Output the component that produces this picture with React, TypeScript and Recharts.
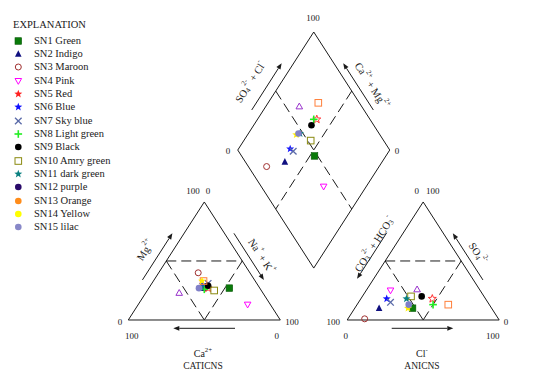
import React from "react";
import { ScatterChart, Scatter, XAxis, YAxis, ReferenceLine, ReferenceDot } from "recharts";

// Piper diagram: sample names and read-off ionic percentages (meq %)
const samples = [
  "SN1 Green", "SN2 Indigo", "SN3 Maroon", "SN4 Pink", "SN5 Red",
  "SN6 Blue", "SN7 Sky blue", "SN8 Light green", "SN9 Black", "SN10 Amry green",
  "SN11 dark green", "SN12 purple", "SN13 Orange", "SN14 Yellow", "SN15  lilac",
];
// cations
const caPct = [20, 37, 34, 15, 34, 36, 32, 37, 33, 31, 38, 55, 34, 35, 40];
const mgPct = [27, 27, 40, 13, 27, 30, 31, 26, 29, 25, 28, 23, 33, 33, 27];
const naKPct = [53, 36, 26, 72, 39, 34, 37, 37, 38, 44, 34, 22, 33, 32, 33];
// anions
const hco3Pct = [52, 74, 88, 59, 35, 65, 64, 37, 41, 48, 52, 41, 27, 55, 53];
const so4Pct = [10, 10, 1, 25, 18, 18, 15, 13, 20, 20, 18, 26, 13, 10, 13];
const clPct = [38, 16, 11, 16, 47, 17, 21, 50, 39, 32, 30, 33, 60, 35, 34];

// symbols as plotted, and as drawn in the explanation box
const plotShape = ["square", "triUp", "circleOpen", "triDownOpen", "starOpen", "star", "cross", "plus", "circle", "squareOpen", "star", "triUpOpen", "squareOpen", "star", "circle"];
const plotColor = ["#0a7a0a", "#101080", "#a03030", "#ff00ff", "#ff2020", "#1010ff", "#5a6aa8", "#22ee22", "#000000", "#8a8a10", "#0a8080", "#9933cc", "#ff7f3a", "#ffee00", "#8080c8"];
const legendShape = ["square", "triUp", "circleOpen", "triDownOpen", "star", "star", "cross", "plus", "circle", "squareOpen", "star", "circle", "circle", "circle", "circle"];
const legendColor = ["#0a7a0a", "#101080", "#a03030", "#ff00ff", "#ff2020", "#1010ff", "#5a6aa8", "#22ee22", "#000000", "#8a8a10", "#0a8080", "#2a0a6a", "#ff8c1a", "#ffff00", "#8888c8"];

const GAP = 44;
const H = 86.6025;
const SPAN = 200 + GAP;
const FONT = "'Liberation Serif', 'Times New Roman', serif";
const INK = "#1a1a1a";

const cationXY = (ca: number, mg: number, na: number) => {
  const s = ca + mg + na;
  const m = (mg / s) * 100, n = (na / s) * 100;
  return { x: n + m / 2, y: (m * H) / 100 };
};
const anionXY = (hco3: number, so4: number, cl: number) => {
  const s = hco3 + so4 + cl;
  const o = (so4 / s) * 100, c = (cl / s) * 100;
  return { x: 100 + GAP + c + o / 2, y: (o * H) / 100 };
};
const diamondXY = (na: number, hco3: number) => {
  const t = SPAN - na - hco3;
  return { x: na + t / 2, y: (t * H) / 100 };
};

const seriesData = samples.map((_, i) => {
  const sc = caPct[i] + mgPct[i] + naKPct[i];
  const sa = hco3Pct[i] + so4Pct[i] + clPct[i];
  return [
    cationXY(caPct[i], mgPct[i], naKPct[i]),
    anionXY(hco3Pct[i], so4Pct[i], clPct[i]),
    diamondXY((naKPct[i] / sc) * 100, (hco3Pct[i] / sa) * 100),
  ];
});

// frame
const pt = (p: { x: number; y: number }) => p;
const C = { a: pt({ x: 0, y: 0 }), b: pt({ x: 100, y: 0 }), c: pt({ x: 50, y: H }) };
const A = { a: pt({ x: 100 + GAP, y: 0 }), b: pt({ x: SPAN, y: 0 }), c: pt({ x: 150 + GAP, y: H }) };
const D = { b: diamondXY(100, 100), l: diamondXY(0, 100), t: diamondXY(0, 0), r: diamondXY(100, 0) };
const solid = [
  [C.a, C.b], [C.b, C.c], [C.c, C.a],
  [A.a, A.b], [A.b, A.c], [A.c, A.a],
  [D.b, D.l], [D.l, D.t], [D.t, D.r], [D.r, D.b],
];
const dashed = [
  [cationXY(50, 50, 0), cationXY(0, 50, 50)], [cationXY(50, 50, 0), cationXY(50, 0, 50)], [cationXY(0, 50, 50), cationXY(50, 0, 50)],
  [anionXY(50, 50, 0), anionXY(0, 50, 50)], [anionXY(50, 50, 0), anionXY(50, 0, 50)], [anionXY(0, 50, 50), anionXY(50, 0, 50)],
  [diamondXY(0, 50), diamondXY(100, 50)], [diamondXY(50, 0), diamondXY(50, 100)],
];
const arrows = [
  [{ x: 70.2, y: -6.1 }, { x: 29.6, y: -6.1 }],
  [{ x: 9.3, y: 29.4 }, { x: 29, y: 63.6 }],
  [{ x: 69.5, y: 63.6 }, { x: 89.2, y: 29.4 }],
  [{ x: 173.3, y: -6.1 }, { x: 213.8, y: -6.1 }],
  [{ x: 170, y: 64 }, { x: 150.5, y: 30.2 }],
  [{ x: 233.3, y: 29.4 }, { x: 213.5, y: 63.6 }],
  [{ x: 81.2, y: 154.1 }, { x: 100.9, y: 188.4 }],
  [{ x: 161.2, y: 154.1 }, { x: 141.4, y: 188.4 }],
];

const ROT = 57.2;
const labels: { x: number; y: number; text: string; size: number; rot?: number }[] = [
  { x: 42.6, y: 94.7, text: "100", size: 9 }, { x: 52.4, y: 94.7, text: "0", size: 9 },
  { x: -5.5, y: -1.5, text: "0", size: 9 }, { x: 2.2, y: -11.7, text: "100", size: 9 },
  { x: 107.7, y: -1.5, text: "100", size: 9 }, { x: 97.6, y: -11.7, text: "0", size: 9 },
  { x: 189.7, y: 94.9, text: "0", size: 9 }, { x: 200.3, y: 94.9, text: "100", size: 9 },
  { x: 134.9, y: -1.5, text: "100", size: 9 }, { x: 143, y: -11.7, text: "0", size: 9 },
  { x: 248.5, y: -1.5, text: "0", size: 9 }, { x: 239.7, y: -11.7, text: "100", size: 9 },
  { x: 121.5, y: 221.6, text: "100", size: 9 }, { x: 65.6, y: 123.7, text: "0", size: 9 }, { x: 176.8, y: 124, text: "0", size: 9 },
  { x: 49.1, y: -24.2, text: "Ca^{2+}", size: 10 }, { x: 49.1, y: -33.8, text: "CATICNS", size: 9.5 },
  { x: 193.2, y: -24.2, text: "Cl^{-}", size: 10 }, { x: 193.2, y: -33.8, text: "ANICNS", size: 9.5 },
  { x: 11, y: 51.4, text: "Mg^{2+}", size: 10.5, rot: -ROT },
  { x: 87.8, y: 47, text: "Na^{+} + K^{+}", size: 10.5, rot: ROT },
  { x: 161.6, y: 55.8, text: "CO_{3}^{2-} + HCO_{3}^{-}", size: 10.5, rot: -ROT },
  { x: 230, y: 49.2, text: "SO_{4}^{2-}", size: 10.5, rot: ROT },
  { x: 80.1, y: 174.7, text: "SO_{4}^{2-} + Cl^{-}", size: 10.5, rot: -ROT },
  { x: 160.3, y: 172.1, text: "Ca^{2+} + Mg^{2+}", size: 10.5, rot: ROT },
];

const tokens = (s: string) =>
  s.split(/(_\{[^}]*\}|\^\{[^}]*\})/).filter(Boolean).map((t) =>
    t.startsWith("_{") ? { t: t.slice(2, -1), m: "sub" } : t.startsWith("^{") ? { t: t.slice(2, -1), m: "sup" } : { t, m: "" }
  );

function ChemText({ cx, cy, text, size, rot }: any) {
  let cur = 0;
  return (
    <text x={cx} y={cy} textAnchor="middle" dominantBaseline="central" fontFamily={FONT} fontSize={size} fill={INK}
      transform={rot ? `rotate(${rot} ${cx} ${cy})` : undefined}>
      {tokens(text).map((p, i) => {
        const target = p.m === "sup" ? -size * 0.4 : p.m === "sub" ? size * 0.3 : 0;
        const dy = target - cur;
        cur = target;
        return <tspan key={i} dy={dy} fontSize={p.m ? size * 0.68 : size}>{p.t}</tspan>;
      })}
    </text>
  );
}

function Arrow({ x1, y1, x2, y2 }: any) {
  const a = Math.atan2(y2 - y1, x2 - x1);
  const L = 6, W = 2.4;
  const bx = x2 - L * Math.cos(a), by = y2 - L * Math.sin(a);
  const px = -Math.sin(a) * W, py = Math.cos(a) * W;
  return (
    <g>
      <line x1={x1} y1={y1} x2={bx} y2={by} stroke={INK} strokeWidth={1} />
      <polygon points={`${x2},${y2} ${bx + px},${by + py} ${bx - px},${by - py}`} fill={INK} />
    </g>
  );
}

const starPath = (cx: number, cy: number, r: number) => {
  const pts: string[] = [];
  for (let k = 0; k < 10; k++) {
    const rr = k % 2 === 0 ? r : r * 0.42;
    const a = -Math.PI / 2 + (k * Math.PI) / 5;
    pts.push(`${cx + rr * Math.cos(a)},${cy + rr * Math.sin(a)}`);
  }
  return `M${pts.join("L")}Z`;
};

function Marker({ kind, color, cx, cy }: { kind: string; color: string; cx: number; cy: number }) {
  const s = 3.3;
  switch (kind) {
    case "square":
      return <rect x={cx - s} y={cy - s} width={2 * s} height={2 * s} fill={color} stroke="#0a5a0a" strokeWidth={0.6} />;
    case "squareOpen":
      return <rect x={cx - s} y={cy - s} width={2 * s} height={2 * s} fill="none" stroke={color} strokeWidth={1} />;
    case "triUp":
      return <polygon points={`${cx},${cy - s - 0.5} ${cx + s},${cy + s - 0.5} ${cx - s},${cy + s - 0.5}`} fill={color} />;
    case "triUpOpen":
      return <polygon points={`${cx},${cy - s} ${cx + s},${cy + s - 0.8} ${cx - s},${cy + s - 0.8}`} fill="none" stroke={color} strokeWidth={1} />;
    case "triDownOpen":
      return <polygon points={`${cx},${cy + s} ${cx + s},${cy - s + 0.8} ${cx - s},${cy - s + 0.8}`} fill="none" stroke={color} strokeWidth={1} />;
    case "circleOpen":
      return <circle cx={cx} cy={cy} r={3} fill="none" stroke={color} strokeWidth={1} />;
    case "circle":
      return <circle cx={cx} cy={cy} r={3.3} fill={color} />;
    case "star":
      return <path d={starPath(cx, cy, 4.2)} fill={color} />;
    case "starOpen":
      return <path d={starPath(cx, cy, 4.2)} fill="none" stroke={color} strokeWidth={0.9} />;
    case "cross":
      return (
        <g stroke={color} strokeWidth={1.3}>
          <line x1={cx - s} y1={cy - s} x2={cx + s} y2={cy + s} />
          <line x1={cx - s} y1={cy + s} x2={cx + s} y2={cy - s} />
        </g>
      );
    case "plus":
      return (
        <g stroke={color} strokeWidth={1.6}>
          <line x1={cx - s - 0.5} y1={cy} x2={cx + s + 0.5} y2={cy} />
          <line x1={cx} y1={cy - s - 0.5} x2={cx} y2={cy + s + 0.5} />
        </g>
      );
    default:
      return null;
  }
}

function Explanation() {
  return (
    <div style={{ position: "absolute", left: 0, top: 0, fontFamily: FONT, fontSize: 10.5, color: INK }}>
      <div style={{ position: "absolute", left: 13, top: 18, whiteSpace: "nowrap", lineHeight: "14px" }}>EXPLANATION</div>
      {samples.map((name, i) => {
        const cy = 40.7 + i * 13.33;
        return (
          <div key={name} style={{ position: "absolute", left: 0, top: cy - 7, height: 14, whiteSpace: "nowrap" }}>
            <svg width={30} height={14} style={{ position: "absolute", left: 0, top: 0 }}>
              <Marker kind={legendShape[i]} color={legendColor[i]} cx={18.3} cy={7} />
            </svg>
            <span style={{ position: "absolute", left: 34, top: 0, lineHeight: "14px" }}>{name}</span>
          </div>
        );
      })}
    </div>
  );
}

export default function App() {
  return (
    <div style={{ position: "absolute", left: 0, top: 0, width: 534, height: 388, background: "#fff" }}>
      <ScatterChart width={534} height={388} margin={{ top: 0, right: 0, bottom: 0, left: 0 }}>
        <XAxis type="number" dataKey="x" domain={[-84.4, 266.9]} hide allowDataOverflow />
        <YAxis type="number" dataKey="y" domain={[-49.9, 234.8]} hide allowDataOverflow />
        {solid.map((s, i) => (
          <ReferenceLine key={`s${i}`} segment={s} stroke={INK} strokeWidth={1} ifOverflow="visible" />
        ))}
        {dashed.map((s, i) => (
          <ReferenceLine key={`d${i}`} segment={s} stroke={INK} strokeWidth={1} strokeDasharray="10 5" ifOverflow="visible" />
        ))}
        {arrows.map((s, i) => (
          <ReferenceLine key={`a${i}`} segment={s} ifOverflow="visible" shape={(p: any) => <Arrow {...p} />} />
        ))}
        {labels.map((l, i) => (
          <ReferenceDot key={`l${i}`} x={l.x} y={l.y} r={1} ifOverflow="visible"
            shape={(p: any) => <ChemText cx={p.cx} cy={p.cy} text={l.text} size={l.size} rot={l.rot} />} />
        ))}
        {samples.map((name, i) => (
          <Scatter key={name} name={name} data={seriesData[i]} isAnimationActive={false}
            shape={(p: any) => <Marker kind={plotShape[i]} color={plotColor[i]} cx={p.cx} cy={p.cy} />} />
        ))}
      </ScatterChart>
      <Explanation />
    </div>
  );
}
